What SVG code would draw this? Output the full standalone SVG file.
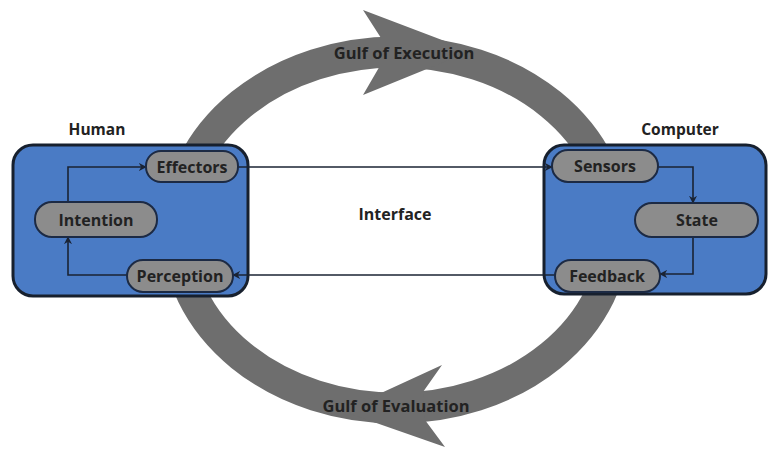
<svg xmlns="http://www.w3.org/2000/svg" width="769" height="450" viewBox="0 0 769 450">
<defs>
<style>
.lbl{font-family:"Open Sans","Liberation Sans",sans-serif;font-weight:bold;fill:#222222;text-anchor:middle;dominant-baseline:central}
.box{fill:#4a7bc5;stroke:#17202e;stroke-width:3}
.pill{fill:#8c8c8c;stroke:#1c2a44;stroke-width:2}
.con{fill:none;stroke:#1a2333;stroke-width:1.6}
.gulf{fill:#6e6e6e}
</style>
<marker id="ah" viewBox="0 0 10 10" refX="9" refY="5" markerWidth="8" markerHeight="8" markerUnits="userSpaceOnUse" orient="auto">
<path d="M0,0 L10,5 L0,10 L3,5 z" fill="#1a2333"/>
</marker>
</defs>
<rect width="769" height="450" fill="#ffffff"/>
<g id="gulfs">
<ellipse cx="396" cy="230" rx="219" ry="178" fill="none" stroke="#6e6e6e" stroke-width="31"/>
<polygon class="gulf" points="363,10 471,51 363,95 381,64 381,38"/>
<polygon class="gulf" points="442,365 342,411 445,447 425,420 423,392"/>
<text class="lbl" x="404" y="52" font-size="16.5">Gulf of Execution</text>
<text class="lbl" x="396" y="405" font-size="16.5">Gulf of Evaluation</text>
</g>
<g id="human">
<rect class="box" x="13" y="145" width="235" height="151" rx="20"/>
<text class="lbl" x="97" y="129" font-size="15.5">Human</text>
</g>
<g id="computer">
<rect class="box" x="544" y="145" width="222" height="149" rx="20"/>
<text class="lbl" x="680" y="129" font-size="15.5">Computer</text>
</g>
<text class="lbl" x="395" y="214" font-size="16">Interface</text>
<g id="connectors">
<path class="con" d="M68,202 V167 H146" marker-end="url(#ah)"/>
<path class="con" d="M127,275 H68 V237" marker-end="url(#ah)"/>
<path class="con" d="M238,167 H552" marker-end="url(#ah)"/>
<path class="con" d="M555,275 H233" marker-end="url(#ah)"/>
<path class="con" d="M658,167 H693 V203" marker-end="url(#ah)"/>
<path class="con" d="M693,237 V274 H660" marker-end="url(#ah)"/>
</g>
<g id="effectors">
<rect class="pill" x="146" y="151" width="92" height="31" rx="15"/>
<text class="lbl" x="192" y="167" font-size="16">Effectors</text>
</g>
<g id="intention">
<rect class="pill" x="35" y="202" width="122" height="35" rx="17"/>
<text class="lbl" x="96" y="220" font-size="16">Intention</text>
</g>
<g id="perception">
<rect class="pill" x="127" y="260" width="106" height="32" rx="16"/>
<text class="lbl" x="180" y="276" font-size="16">Perception</text>
</g>
<g id="sensors">
<rect class="pill" x="552" y="150" width="106" height="32" rx="16"/>
<text class="lbl" x="605" y="166" font-size="16">Sensors</text>
</g>
<g id="state">
<rect class="pill" x="635" y="203" width="123" height="34" rx="17"/>
<text class="lbl" x="697" y="220" font-size="16">State</text>
</g>
<g id="feedback">
<rect class="pill" x="555" y="260" width="105" height="32" rx="16"/>
<text class="lbl" x="607" y="276" font-size="16">Feedback</text>
</g>
</svg>
